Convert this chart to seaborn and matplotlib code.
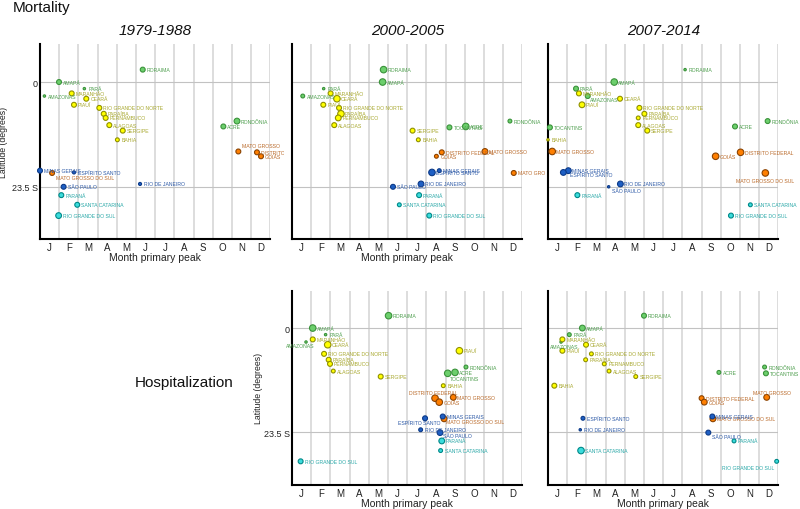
import numpy as np
import pandas as pd
import matplotlib
matplotlib.use("Agg")
import matplotlib.pyplot as plt
import seaborn as sns
from matplotlib.transforms import Bbox, TransformedBbox, offset_copy

# ---------------- data ----------------
states = ["RORAIMA", "AMAPÁ", "PARÁ", "AMAZONAS", "MARANHÃO", "CEARÁ", "PIAUÍ",
          "RIO GRANDE DO NORTE", "PARAÍBA", "PERNAMBUCO", "ALAGOAS", "SERGIPE", "BAHIA",
          "ACRE", "RONDÔNIA", "TOCANTINS", "MATO GROSSO", "DISTRITO FEDERAL", "GOIÁS",
          "MATO GROSSO DO SUL", "MINAS GERAIS", "ESPÍRITO SANTO", "RIO DE JANEIRO",
          "SÃO PAULO", "PARANÁ", "SANTA CATARINA", "RIO GRANDE DO SUL"]
regions = ["N", "N", "N", "N", "NE", "NE", "NE", "NE", "NE", "NE", "NE", "NE", "NE",
           "N", "N", "N", "CW", "CW", "CW", "CW", "SE", "SE", "SE", "SE", "S", "S", "S"]
# latitude in degrees south (negative = north)
latitude = [-2.82, -0.03, 1.46, 3.12, 2.53, 3.73, 5.09, 5.79, 7.12, 8.05, 9.67, 10.91, 12.97,
            9.97, 8.76, 10.18, 15.60, 15.79, 16.68, 20.44, 19.92, 20.32, 22.91, 23.55,
            25.43, 27.60, 30.03]

month_labels = ["J", "F", "M", "A", "M", "J", "J", "A", "S", "O", "N", "D"]

# month of primary peak (0 = start of January) and marker size class, per panel
mort_7988_month = [5.35, 0.99, 2.31, 0.23, 1.65, 2.41, 1.77, 3.09, 3.32, 3.42, 3.61, 4.31, 4.03,
                   9.55, 10.26, None, 10.33, 11.30, 11.51, 0.63, 0.00, 1.77, 5.21, 1.23,
                   1.11, 1.94, 0.97]
mort_7988_size = [2, 2, 1, 1, 2, 2, 2, 2, 2, 2, 2, 2, 1.5,
                  2, 2.5, None, 2, 2, 2, 2, 2, 1.2, 1.2, 2, 2, 2, 2.5]

mort_0005_month = [4.77, 4.72, 1.65, 0.56, 2.01, 2.34, 1.63, 2.45, 2.55, 2.41, 2.20, 6.28, 6.58,
                   9.05, 11.35, 8.20, 10.05, 7.80, 7.52, 11.55, 7.67, 7.29, 6.72, 5.26,
                   6.62, 5.59, 7.15]
mort_0005_size = [3, 3, 1, 1.5, 2, 3, 2, 2, 3, 2.5, 2, 2, 1.5,
                  3, 1.5, 2, 2.5, 2, 1.5, 2, 1.5, 3, 2.5, 2, 2, 1.5, 2]

mort_0714_month = [7.14, 3.45, 1.46, 2.07, 1.61, 3.75, 1.77, 4.76, 5.02, 4.70, 4.70, 5.17, 0.00,
                   9.74, 11.44, 0.10, 0.22, 10.03, 8.73, 11.32, 1.06, 0.80, 3.77, 3.16,
                   1.53, 10.54, 9.53]
mort_0714_size = [1, 3, 2, 2, 2, 2, 2.5, 2, 2, 1.5, 2, 2, 1,
                  2, 2, 2, 3, 3, 3, 3, 2.5, 2.5, 2.5, 1, 2, 1.5, 2]

hosp_0005_month = [5.03, 1.08, 1.75, 0.73, 1.08, 1.86, 8.72, 1.67, 1.91, 1.98, 2.15, 4.62, 7.88,
                   8.49, 9.06, 8.11, 8.40, 7.45, 7.67, 7.92, 7.85, 6.93, 6.70, 7.71,
                   7.80, 7.74, 0.45]
hosp_0005_size = [3, 3, 1, 1, 2, 3, 3, 2, 2, 2, 1.5, 2, 1.5,
                  3, 1.5, 3, 2.5, 3, 3, 2.5, 2, 2, 1.5, 2.5, 2.5, 1.5, 2]

hosp_0714_month = [5.00, 1.79, 1.11, 0.68, 0.75, 1.98, 0.75, 2.26, 1.96, 2.93, 3.18, 4.57, 0.33,
                   8.90, 11.28, 11.35, 11.39, 8.00, 8.14, 8.59, 8.56, 1.82, 1.68, 8.35,
                   9.69, 1.72, 11.91]
hosp_0714_size = [2, 2.5, 1.5, 1, 2, 2, 2, 1.5, 1.5, 1.5, 1.5, 1.5, 2,
                  1.5, 1.5, 2, 2.5, 2, 2.5, 2.5, 2, 1.5, 1, 2, 1.5, 3, 1.5]

period_titles = ["1979-1988", "2000-2005", "2007-2014"]

# ---------------- style ----------------
fill_colors = {"N": "#6CCF6C", "NE": "#FFFF00", "CW": "#FF7F00", "SE": "#1E5FC4", "S": "#3ADCDC"}
edge_colors = {"N": "#3A923A", "NE": "#8F8F00", "CW": "#8A4200", "SE": "#0C3A88", "S": "#008888"}
text_colors = {"N": "#4F9F4F", "NE": "#A8A830", "CW": "#BA6A2A", "SE": "#2B58A6", "S": "#2AA8A8"}

sns.set_style("white")
plt.rcParams["font.family"] = ["Liberation Sans", "DejaVu Sans"]

W, H = 800, 510
fig = plt.figure(figsize=(W / 100, H / 100), dpi=100)


def rect(x0, x1, ytop, ybot):
    return [x0 / W, 1 - ybot / H, (x1 - x0) / W, (ybot - ytop) / H]


AXW = 230.4
top_y = (45.4, 240.0)
bot_y = (291.5, 485.7)

# label offsets in pixels (dx, dy-up, ha)
off_p1 = {"MATO GROSSO DO SUL": (4, -5, "left"), "MATO GROSSO": (4, 5.5, "left")}
off_p2 = {}
off_p3 = {"AMAZONAS": (2, -3.5, "left"), "ESPÍRITO SANTO": (7, -2.5, "left"),
          "SÃO PAULO": (3, -4, "left"), "MATO GROSSO DO SUL": (0, -7.7, "center")}
off_p4 = {"AMAZONAS": (-6, -3.6, "center"), "TOCANTINS": (2, -5.3, "left"),
          "DISTRITO FEDERAL": (-2, 5.7, "center"), "ESPÍRITO SANTO": (-6, -4.7, "center"),
          "SÃO PAULO": (3, -2.5, "left"), "MATO GROSSO DO SUL": (2, -2.4, "left")}
off_p5 = {"AMAZONAS": (3, -4, "center"), "MATO GROSSO": (5, 4.7, "center"),
          "SÃO PAULO": (4, -3.7, "left"), "RIO GRANDE DO SUL": (-2, -5.7, "right")}

panels = [
    dict(x0=40, yy=top_y, month=mort_7988_month, size=mort_7988_size, off=off_p1,
         clip=(0, 284), ylab=True, ylabx=7.5, xlab=True, title=period_titles[0]),
    dict(x0=292, yy=top_y, month=mort_0005_month, size=mort_0005_size, off=off_p2,
         clip=(280, 545), ylab=False, xlab=True, title=period_titles[1]),
    dict(x0=548, yy=top_y, month=mort_0714_month, size=mort_0714_size, off=off_p3,
         clip=(540, 800), ylab=False, xlab=False, title=period_titles[2]),
    dict(x0=292, yy=bot_y, month=hosp_0005_month, size=hosp_0005_size, off=off_p4,
         clip=(270, 545), ylab=True, ylabx=263, xlab=True, title=None),
    dict(x0=548, yy=bot_y, month=hosp_0714_month, size=hosp_0714_size, off=off_p5,
         clip=(540, 800), ylab=False, xlab=True, title=None),
]

for p in panels:
    ax = fig.add_axes(rect(p["x0"], p["x0"] + AXW, p["yy"][0], p["yy"][1]))
    df = pd.DataFrame({"state": states, "region": regions, "lat": latitude,
                       "month": p["month"], "size": p["size"]}).dropna()
    df["month"] = df["month"].astype(float)
    df["size"] = df["size"].astype(float)

    ax.set_xlim(0, 12)
    ax.set_ylim(35.3, -8.5)
    ax.set_xticks(np.arange(12) + 0.5)
    ax.set_xticklabels(month_labels)
    ax.set_xticks(np.arange(1, 13), minor=True)
    ax.set_yticks([0, 23.5])
    ax.set_yticklabels(["0", "23.5 S"] if p["ylab"] else ["", ""])
    ax.grid(False)
    ax.grid(which="minor", axis="x", color="#d3d3d3", lw=1.1, zorder=0)
    ax.grid(which="major", axis="y", color="#c2c2c2", lw=0.8, zorder=0)
    ax.tick_params(axis="both", which="both", length=0)
    ax.tick_params(axis="x", labelsize=7, pad=2.5, colors="#222222")
    ax.tick_params(axis="y", labelsize=6.5, pad=1.5, colors="#222222")
    for s in ["top", "right"]:
        ax.spines[s].set_visible(False)
    for s in ["left", "bottom"]:
        ax.spines[s].set_color("black")
        ax.spines[s].set_linewidth(1.5)

    for reg in ["N", "NE", "CW", "SE", "S"]:
        sub = df[df["region"] == reg]
        if len(sub) == 0:
            continue
        sns.scatterplot(data=sub, x="month", y="lat", size="size", sizes=(3, 22),
                        size_norm=(1, 3), color=fill_colors[reg], edgecolor=edge_colors[reg],
                        linewidth=0.8, legend=False, ax=ax, zorder=3, clip_on=False)

    clipbox = TransformedBbox(Bbox.from_extents(p["clip"][0] / W, 0, p["clip"][1] / W, 1),
                              fig.transFigure)
    for _, r in df.iterrows():
        dx, dy, ha = p["off"].get(r["state"], (4, 0, "left"))
        tr = offset_copy(ax.transData, fig=fig, x=dx * 0.72, y=dy * 0.72, units="points")
        t = ax.text(r["month"], r["lat"], r["state"], transform=tr, fontsize=3.7,
                    color=text_colors[r["region"]], ha=ha, va="center", zorder=4)
        t.set_clip_path(None)
        t.set_clip_box(clipbox)
        t.set_clip_on(True)

    ax.set_xlabel("Month primary peak" if p["xlab"] else "", fontsize=7.5, color="#222222")
    ax.xaxis.set_label_coords(0.5, -13.0 / (p["yy"][1] - p["yy"][0]))
    if p["ylab"]:
        ax.set_ylabel("Latitude (degrees)", fontsize=6.3, color="#222222")
        ax.yaxis.set_label_coords((p["ylabx"] - p["x0"]) / AXW, 0.5)
    else:
        ax.set_ylabel("")

    if p["title"]:
        fig.text((p["x0"] + AXW / 2) / W, 1 - 30.7 / H, p["title"], fontsize=11,
                 style="italic", ha="center", va="center", color="#111111")

fig.text(12.7 / W, 1 - 11.7 / H, "Mortality", fontsize=11, ha="left", va="baseline",
         color="#111111")
fig.text(135 / W, 1 - 387 / H, "Hospitalization", fontsize=11, ha="left", va="baseline",
         color="#111111")

fig.savefig("out.png", dpi=100)
